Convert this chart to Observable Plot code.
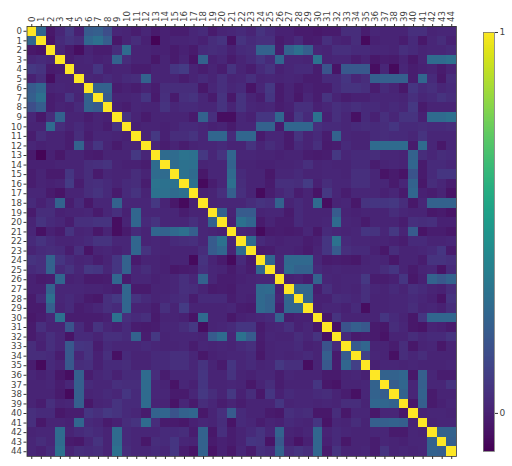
<!DOCTYPE html>
<html><head><meta charset="utf-8">
<script src="https://cdn.jsdelivr.net/npm/d3@7"></script>
<script src="https://cdn.jsdelivr.net/npm/@observablehq/plot@0.6"></script>
<style>
html,body{margin:0;padding:0;background:#fff}
#chart{position:relative;width:512px;height:466px}
#chart svg{position:absolute;left:0;top:0;background:transparent}
</style></head><body><div id="chart"></div>
<script>
// Upper triangle of the correlation matrix, in hundredths; each row starts at its diagonal.
const row0=[100,26,-3,2,8,0,21,23,16,2,1,-1,2,-2,0,-1,-1,2,3,-2,1,2,3,1,6,3,0,0,-2,-2,-3,-2,-2,4,4,-1,2,1,1,1,5,5,1,2,2];
const row1=[100,-4,3,6,4,26,30,22,-3,1,4,0,-9,0,1,1,2,0,4,6,-5,6,3,5,5,-2,0,3,-2,-1,5,1,0,4,-7,0,1,1,-1,3,-3,2,4,0];
const row2=[100,2,-2,-6,1,-1,-1,4,28,1,1,0,0,-2,0,-2,3,4,3,0,3,4,24,24,-1,24,30,23,2,1,5,5,3,3,2,2,1,5,3,1,2,2,3];
const row3=[100,-1,1,2,0,1,24,4,1,1,-3,1,-2,1,-4,24,0,2,-2,1,3,7,3,26,2,2,1,31,1,2,2,-1,1,-3,-1,-2,1,-3,1,28,28,30];
const row4=[100,1,1,7,0,1,1,-1,-1,1,1,7,9,1,-1,1,-1,6,1,-1,3,6,0,2,3,3,-1,18,-4,20,20,20,-6,2,-7,2,-1,0,1,-2,1];
const row5=[100,2,1,3,1,3,4,24,1,1,1,-1,1,3,1,5,1,2,5,1,2,1,2,1,-1,-1,3,3,7,2,4,23,23,23,23,-1,26,3,-3,4];
const row6=[100,24,24,-1,0,-1,1,-1,4,4,4,4,-3,2,5,2,3,-4,2,8,-2,1,-2,0,-1,-1,3,6,6,5,-1,3,1,-3,7,3,5,2,3];
const row7=[100,21,1,1,2,7,-2,5,-2,5,6,2,-2,6,-3,6,1,-1,7,-2,1,-3,2,-1,6,1,-1,0,0,2,2,2,1,5,2,3,6,4];
const row8=[100,0,-1,2,1,1,6,2,3,3,2,2,6,1,6,2,1,2,-1,0,5,5,0,2,5,3,5,3,3,2,3,2,8,-2,1,1,1];
const row9=[100,6,1,-2,1,1,1,1,-2,24,5,-6,-6,2,0,7,7,26,-1,8,3,31,0,5,2,-5,3,0,5,2,6,6,0,28,28,30];
const row10=[100,0,1,1,0,1,3,3,2,0,1,-2,2,2,24,24,-2,26,26,26,5,3,3,2,3,4,3,4,7,3,3,4,3,3,4];
const row11=[100,1,8,0,4,4,6,2,26,26,3,26,26,-2,2,2,-2,6,1,3,-1,24,2,1,1,3,4,3,3,2,6,2,2,2];
const row12=[100,2,-1,1,-1,1,2,2,3,1,1,6,1,4,2,-2,3,1,5,-2,-1,3,1,1,28,28,28,28,-2,28,2,-3,2];
const row13=[100,28,28,32,31,8,2,6,26,2,2,1,1,0,1,1,-1,-2,-1,8,2,3,3,4,2,2,1,24,4,2,4,3];
const row14=[100,28,31,30,1,2,2,24,1,1,0,0,1,1,2,5,1,2,1,1,3,3,-1,1,2,1,26,-2,3,3,2];
const row15=[100,31,28,-3,2,2,27,3,1,1,-3,2,2,3,1,1,2,2,1,5,5,2,-4,-2,-4,18,-2,3,7,7];
const row16=[100,30,-7,-1,2,30,4,1,1,-2,5,5,4,9,0,4,2,2,5,5,2,2,-2,2,24,-3,4,2,-1];
const row17=[100,0,1,5,23,5,1,-7,-1,2,4,-1,1,-4,8,2,-1,2,2,2,0,2,-2,26,0,-1,1,-4];
const row18=[100,1,2,2,2,4,6,5,24,1,3,1,28,-6,1,2,-3,6,7,7,8,4,-3,2,24,24,24];
const row19=[100,24,1,21,21,1,2,2,-2,3,1,1,1,21,1,0,1,1,1,4,2,1,1,-3,-2,-4];
const row20=[100,0,31,26,-2,1,-1,-1,3,1,1,2,28,2,1,-2,1,1,1,-1,5,4,5,0,0];
const row21=[100,2,1,-7,-2,-1,-2,-1,2,-3,3,2,1,2,7,6,2,8,1,21,-4,-1,-1,-3];
const row22=[100,28,3,1,0,1,1,-1,0,7,31,3,2,2,1,1,0,-1,3,3,1,1,2];
const row23=[100,-2,-1,1,1,0,-2,1,7,21,5,3,3,0,-3,4,1,1,2,3,7,-2];
const row24=[100,26,2,27,27,27,2,-2,-1,-2,-3,1,2,1,-3,1,1,-1,6,6,5];
const row25=[100,2,28,24,24,3,1,2,1,1,2,2,4,7,1,-2,1,2,-4,3];
const row26=[100,0,1,-1,24,2,1,2,2,8,-1,-1,0,7,-3,0,24,20,24];
const row27=[100,26,26,-1,5,1,2,1,5,2,1,3,1,5,3,1,0,4];
const row28=[100,26,0,0,4,3,2,5,1,1,2,2,3,2,0,-4,6];
const row29=[100,0,2,2,0,3,-6,1,1,2,2,4,1,2,0,4];
const row30=[100,-3,6,1,1,1,1,7,3,1,-3,7,26,26,26];
const row31=[100,-5,18,23,20,-2,-3,4,2,-3,-4,1,0,-2];
const row32=[100,3,-2,-1,-2,-4,1,1,4,2,3,3,6];
const row33=[100,21,26,1,1,-1,4,-3,1,2,-3,1];
const row34=[100,11,2,1,-5,4,2,4,1,1,1];
const row35=[100,0,2,2,1,2,1,1,1,2];
const row36=[100,24,24,26,-3,23,2,-1,-1];
const row37=[100,22,26,2,23,2,2,6];
const row38=[100,24,2,24,-2,1,1];
const row39=[100,-3,23,-2,0,2];
const row40=[100,1,2,2,1];
const row41=[100,1,2,2];
const row42=[100,24,24];
const row43=[100,23];
const row44=[100];
const rows=[row0,row1,row2,row3,row4,row5,row6,row7,row8,row9,row10,row11,row12,row13,row14,row15,row16,row17,row18,row19,row20,row21,row22,row23,row24,row25,row26,row27,row28,row29,row30,row31,row32,row33,row34,row35,row36,row37,row38,row39,row40,row41,row42,row43,row44];
const labels=rows.map((_,i)=>i);
const colorbarTicks=[0,1];
const colorDomain=[-0.1,1];

const cells=[];
rows.forEach((r,i)=>r.forEach((v,k)=>{
  cells.push({row:i,col:i+k,v:v/100});
  if(k>0)cells.push({row:i+k,col:i,v:v/100});
}));

const font='"DejaVu Sans",sans-serif';
const color={type:"linear",scheme:"viridis",domain:colorDomain};
const chart=document.getElementById("chart");

const main=Plot.plot({
  width:512,height:466,
  marginLeft:26.5,marginRight:56,marginTop:26,marginBottom:10,
  style:{fontFamily:font,fontSize:"9px",color:"#444"},
  x:{type:"band",domain:labels,padding:0,round:false,axis:null},
  y:{type:"band",domain:labels,padding:0,round:false,axis:null},
  color,
  marks:[
    Plot.cell(cells,{x:"col",y:"row",fill:"v",shapeRendering:"crispEdges"}),
    Plot.axisX({anchor:"top",label:null,tickSize:3,tickPadding:1.5,tickRotate:-90,textAnchor:"start",stroke:"#333",fontSize:8.6}),
    Plot.axisX({anchor:"bottom",label:null,tickSize:3,tickFormat:null,stroke:"#333"}),
    Plot.axisY({anchor:"left",label:null,tickSize:3,tickPadding:2,stroke:"#333",fontSize:8.6}),
    Plot.frame({stroke:"#333",strokeWidth:0.8})
  ]
});
const cellGroup=main.querySelector('g[aria-label="cell"]');
if(cellGroup)cellGroup.style.filter="blur(0.4px)";
chart.appendChild(main);

const steps=d3.range(0,256).map(i=>colorDomain[0]+(colorDomain[1]-colorDomain[0])*i/255);
const dv=(colorDomain[1]-colorDomain[0])/255;
const bar=Plot.plot({
  width:512,height:466,
  marginLeft:483,marginRight:18,marginTop:32,marginBottom:15,
  style:{fontFamily:font,fontSize:"9px",color:"#444",background:"transparent"},
  x:{domain:[0,1],axis:null},
  y:{domain:colorDomain,axis:null},
  color,
  marks:[
    Plot.rect(steps,{x1:0,x2:1,y1:d=>d,y2:d=>Math.min(d+dv,colorDomain[1]),fill:d=>d,shapeRendering:"crispEdges"}),
    Plot.frame({stroke:"#777",strokeWidth:0.8}),
    Plot.axisY({anchor:"right",ticks:colorbarTicks,tickFormat:d3.format("d"),label:null,tickSize:3,tickPadding:2,stroke:"#333",fontSize:9})
  ]
});
chart.appendChild(bar);
</script></body></html>
